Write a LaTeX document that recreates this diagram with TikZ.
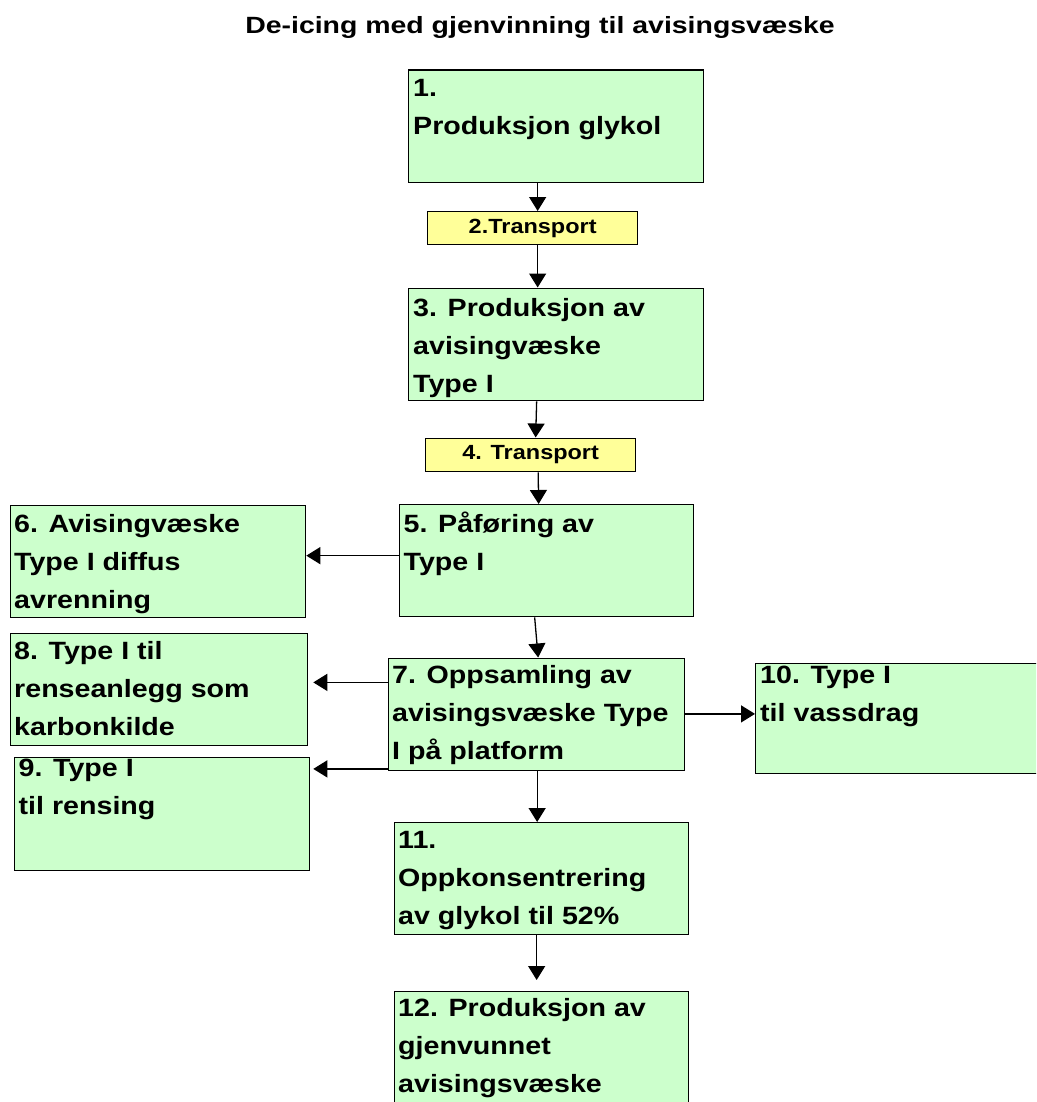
\documentclass[tikz,border=0pt]{standalone}
\usepackage{fontspec}
\setmainfont{Liberation Sans}[FakeStretch=1.145]
\newfontfamily\titlefont{Liberation Sans}[FakeStretch=1.21]
\usetikzlibrary{arrows.meta,calc}
\definecolor{boxgreen}{RGB}{204,255,204}
\definecolor{boxyellow}{RGB}{255,255,153}
\newcommand\greenbox[5]{\node[gbox, minimum width=#4pt, minimum height=#5pt] (#1) at (#2,#3) {};}
\newcommand\boxtext[4]{\node[txt] (#1) at ($(#2.north west)+(#3)$) {\begin{tabular}[t]{@{}l@{}}#4\end{tabular}};}
\begin{document}
\begin{tikzpicture}[x=1pt,y=-1pt,
  gbox/.style={draw=black, line width=1.3pt, fill=boxgreen, inner sep=0pt, anchor=north west},
  ybox/.style={draw=black, line width=1.3pt, fill=boxyellow, inner sep=0pt, anchor=north west,
    font=\bfseries\fontsize{20.5}{24}\selectfont},
  txt/.style={anchor=base west, inner sep=0pt, font=\bfseries\fontsize{25}{38}\selectfont},
  arr/.style={line width=1.3pt, -{Triangle[length=14pt,width=17pt]}}
]
\path[use as bounding box] (0,0) rectangle (1036,1102);
\clip (0,0) rectangle (1036,1102);

\node[anchor=base, font=\titlefont\bfseries\fontsize{23.5}{28}\selectfont] (title) at (540,34)
  {De-icing med gjenvinning til avisingsvæske};

% boxes
\greenbox{b1}{408}{69.5}{295}{112.5}
\node[ybox, minimum width=210pt, minimum height=33pt] (b2) at (427,211) {2.Transport};
\greenbox{b3}{408}{287.5}{295}{112.5}
\node[ybox, minimum width=210pt, minimum height=33.5pt] (b4) at (425,437.5) {4. Transport};
\greenbox{b5}{398.5}{504}{294}{112}
\greenbox{b6}{10}{504.5}{295}{112}
\greenbox{b7}{387.5}{657.5}{296}{112.5}
\greenbox{b8}{10}{632.5}{297}{112.5}
\greenbox{b9}{14}{757}{294.5}{112.5}
\greenbox{b10}{755}{662.5}{310}{110.5}
\greenbox{b11}{393.5}{822}{294}{112}
\greenbox{b12}{393.5}{990.5}{294}{150}

% texts
\boxtext{t1}{b1}{5,27.2}{1.\\Produksjon glykol}
\boxtext{t3}{b3}{5,29.2}{3. Produksjon av\\avisingvæske\\Type I}
\boxtext{t5}{b5}{5,28}{5. Påføring av\\Type I}
\boxtext{t6}{b6}{4,27.5}{6. Avisingvæske\\Type I diffus\\avrenning}
\boxtext{t7}{b7}{4.5,25.8}{7. Oppsamling av\\avisingsvæske Type\\I på platform}
\boxtext{t8}{b8}{4,26.5}{8. Type I til\\renseanlegg som\\karbonkilde}
\boxtext{t9}{b9}{4.5,19.3}{9. Type I\\til rensing}
\boxtext{t10}{b10}{5,20.6}{10. Type I\\til vassdrag}
\boxtext{t11}{b11}{4.5,26.3}{11.\\Oppkonsentrering\\av glykol til 52\%}
\boxtext{t12}{b12}{4.5,26.2}{12. Produksjon av\\gjenvunnet\\avisingsvæske}

% connectors
\draw[arr] ([xshift=-18.5]b1.south) -- ([xshift=5]b2.north);
\draw[arr] ([xshift=5]b2.south) -- ([xshift=-18.5]b3.north);
\draw[arr] ([xshift=-19.5]b3.south) -- ([xshift=5]b4.north);
\draw[arr] ([xshift=7.5]b4.south) -- ([xshift=-7.5]b5.north);
\draw[arr] ([yshift=5]b5.west) -- ([yshift=5.5]b6.east);
\draw[arr] ([xshift=-11.5]b5.south) -- ([xshift=2]b7.north);
\draw[arr] ([yshift=32]b7.west) -- ([xshift=5,yshift=7]b8.east);
\draw[arr] ([yshift=-54.5]b7.west) -- ([xshift=3.5,yshift=45]b9.east);
\draw[arr] ([yshift=0.5]b7.east) -- ([yshift=4.5]b10.west);
\draw[arr] ([xshift=1]b7.south) -- ([xshift=-4]b11.north);
\draw[arr] ([xshift=-4.5]b11.south) -- ([xshift=-4.5,yshift=10.5]b12.north);
\end{tikzpicture}
\end{document}
